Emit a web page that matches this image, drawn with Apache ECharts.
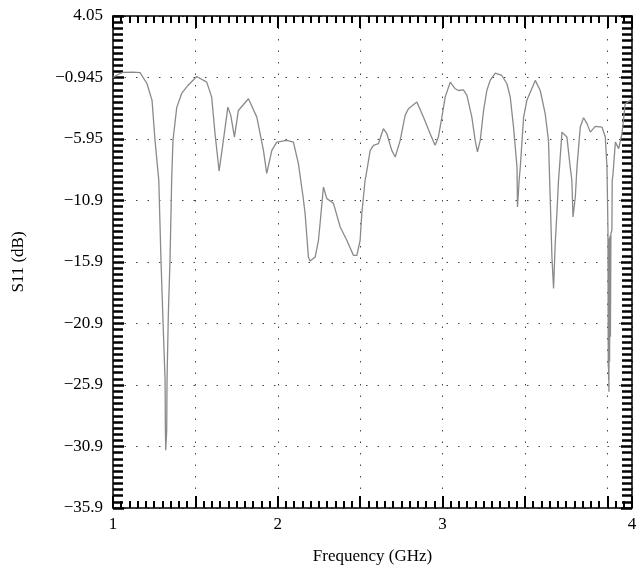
<!DOCTYPE html>
<html>

<head>
    <meta charset="utf-8">
    <script src="https://cdn.jsdelivr.net/npm/echarts@6/dist/echarts.min.js"></script>
</head>

<body style="margin:0">
    <div id="main" style="width: 641px;height:575px;"></div>
    <script type="text/javascript">
        // frequency (GHz) and S11 (dB)
        var freq = [
            1.000, 1.030, 1.061, 1.120, 1.164, 1.206, 1.237, 1.255, 1.278, 1.291,
            1.302, 1.316, 1.318, 1.320, 1.326, 1.328, 1.336, 1.346, 1.356, 1.364,
            1.387, 1.417, 1.455, 1.508, 1.569, 1.599, 1.619, 1.644, 1.670, 1.697,
            1.715, 1.737, 1.761, 1.822, 1.873, 1.913, 1.933, 1.964, 1.994, 2.055,
            2.095, 2.125, 2.154, 2.166, 2.186, 2.196, 2.227, 2.247, 2.257, 2.277,
            2.298, 2.338, 2.379, 2.419, 2.459, 2.480, 2.500, 2.510, 2.520, 2.530,
            2.541, 2.561, 2.581, 2.611, 2.641, 2.662, 2.692, 2.713, 2.743, 2.773,
            2.793, 2.844, 2.884, 2.925, 2.955, 2.975, 2.996, 3.016, 3.047, 3.077,
            3.097, 3.127, 3.148, 3.178, 3.198, 3.212, 3.229, 3.249, 3.269, 3.289,
            3.320, 3.360, 3.391, 3.411, 3.431, 3.452, 3.455, 3.465, 3.472, 3.492,
            3.512, 3.563, 3.593, 3.623, 3.643, 3.654, 3.664, 3.674, 3.684, 3.694,
            3.704, 3.710, 3.725, 3.755, 3.775, 3.785, 3.792, 3.806, 3.816, 3.836,
            3.856, 3.877, 3.897, 3.927, 3.968, 3.988, 3.998, 4.002, 4.004, 4.006,
            4.007, 4.008, 4.009, 4.010, 4.012, 4.014, 4.016, 4.019, 4.022, 4.028,
            4.030, 4.035, 4.049, 4.069, 4.089, 4.109, 4.140, 4.150
        ];
        var s11 = [
            -0.94, -0.70, -0.53, -0.50, -0.55, -1.43, -2.80, -6.05, -9.30, -15.7,
            -20.1, -25.5, -29.6, -31.2, -29.6, -25.5, -20.1, -15.8, -9.30, -6.05,
            -3.37, -2.24, -1.59, -0.86, -1.32, -2.54, -5.48, -8.54, -6.05, -3.35,
            -4.02, -5.78, -3.62, -2.67, -4.16, -6.86, -8.73, -6.86, -6.19, -6.05,
            -6.19, -7.92, -10.67, -12.0, -15.52, -15.84, -15.52, -14.16, -12.78, -9.84,
            -10.78, -11.16, -13.08, -14.16, -15.38, -15.38, -14.16, -12.0, -10.65, -9.29,
            -8.48, -6.86, -6.45, -6.32, -5.10, -5.51, -6.86, -7.40, -6.05, -4.02,
            -3.48, -2.94, -4.16, -5.51, -6.45, -5.78, -4.16, -2.54, -1.32, -1.86,
            -2.00, -1.94, -2.40, -4.16, -6.05, -6.99, -6.05, -3.62, -2.00, -1.18,
            -0.59, -0.78, -1.45, -2.54, -4.97, -8.22, -11.46, -9.29, -8.22, -4.16,
            -2.80, -1.18, -2.00, -3.88, -6.05, -10.92, -15.52, -18.08, -14.43, -12.0,
            -9.29, -8.22, -5.38, -5.78, -8.22, -9.29, -12.27, -10.65, -8.22, -4.97,
            -4.21, -4.69, -5.38, -4.91, -4.97, -5.78, -8.22, -11.46, -13.4, -24.5,
            -14.5, -25.5, -15.0, -26.47, -14.0, -24.0, -13.8, -22.0, -13.6, -13.35,
            -9.29, -8.75, -6.19, -6.72, -5.51, -3.07, -2.80, -2.67
        ];

        var yTickLabels = ['\u221235.9', '\u221230.9', '\u221225.9', '\u221220.9', '\u221215.9',
            '\u221210.9', '\u22125.95', '\u22120.945', '4.05'];
        var xTickLabels = ['1', '2', '3', '4'];

        var xMin = 1, xMax = 4.15;
        var yMin = -35.9, yMax = 4.05;
        var yStep = (yMax - yMin) / 8;

        var font = 'Liberation Serif';
        var dotted = { color: '#444', width: 1, type: [1.5, 10] };

        var data = freq.map(function (f, i) { return [f, s11[i]]; });

        function xLabel(v) {
            if (Math.abs(v - xMax) < 1e-6) return xTickLabels[3];
            var r = Math.round(v);
            if (Math.abs(v - r) < 1e-6 && r < 4) return xTickLabels[r - 1];
            return '';
        }

        function majorX(pos, withLabel) {
            return {
                type: 'value', min: xMin, max: xMax, interval: 0.5, position: pos,
                axisLine: { onZero: false, lineStyle: { color: '#000', width: 1.5 } },
                axisTick: { inside: true, length: 12, lineStyle: { color: '#000', width: 2 } },
                axisLabel: {
                    show: withLabel, formatter: xLabel, showMaxLabel: true, showMinLabel: true,
                    color: '#000', fontFamily: font, fontSize: 17, margin: 8
                },
                splitLine: { show: withLabel, lineStyle: dotted },
                name: withLabel ? 'Frequency (GHz)' : '',
                nameLocation: 'middle', nameGap: 40,
                nameTextStyle: { color: '#000', fontFamily: font, fontSize: 17 }
            };
        }

        function minorX(pos) {
            return {
                type: 'value', min: xMin, max: xMax, interval: 0.05, position: pos,
                axisLine: { show: false, onZero: false },
                axisTick: { inside: true, length: 7, lineStyle: { color: '#000', width: 2 } },
                axisLabel: { show: false },
                splitLine: { show: false }
            };
        }

        function yAx(pos, withLabel) {
            return {
                type: 'value', min: yMin, max: yMax, interval: yStep, position: pos,
                axisLine: { onZero: false, lineStyle: { color: '#000', width: 1.5 } },
                axisTick: { inside: true, length: 11, lineStyle: { color: '#000', width: 2.5 } },
                minorTick: { show: true, splitNumber: 10, length: 10, lineStyle: { color: '#000', width: 2.5 } },
                axisLabel: {
                    show: withLabel, showMaxLabel: true, showMinLabel: true,
                    formatter: function (v, i) { return yTickLabels[i]; },
                    color: '#000', fontFamily: font, fontSize: 17, margin: 10
                },
                splitLine: { show: withLabel, lineStyle: dotted },
                name: withLabel ? 'S11 (dB)' : '',
                nameLocation: 'middle', nameGap: 86,
                nameTextStyle: { color: '#000', fontFamily: font, fontSize: 17 }
            };
        }

        var chart = echarts.init(document.getElementById('main'));

        chart.setOption({
            backgroundColor: '#fff',
            animation: false,
            grid: { left: 113, right: 9, top: 16, bottom: 67 },
            xAxis: [majorX('bottom', true), minorX('bottom'), majorX('top', false), minorX('top')],
            yAxis: [yAx('left', true), yAx('right', false)],
            series: [
                {
                    type: 'line',
                    xAxisIndex: 0,
                    yAxisIndex: 0,
                    data: data,
                    showSymbol: false,
                    lineStyle: { color: '#8a8a8a', width: 1.3 }
                }
            ]
        });
    </script>
</body>

</html>
